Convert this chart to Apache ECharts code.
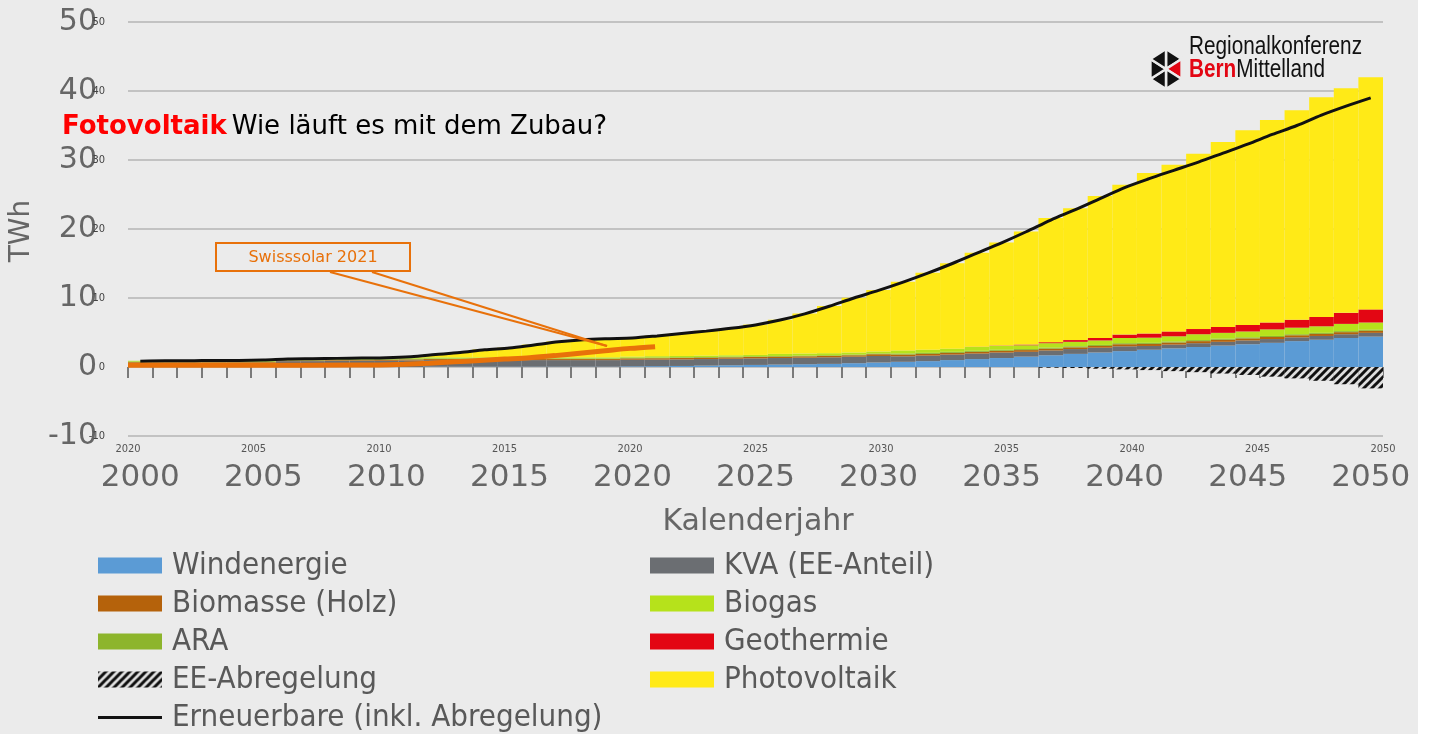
<!DOCTYPE html>
<html>
<head>
<meta charset="utf-8">
<title>Fotovoltaik – Wie läuft es mit dem Zubau?</title>
<script src="https://cdn.jsdelivr.net/npm/echarts@6/dist/echarts.min.js"></script>
<style>
  html, body { margin: 0; padding: 0; background: #ebebeb; }
  #chart { width: 1429px; height: 734px; }
</style>
</head>
<body>
<div id="chart"></div>
<script>
// Kalenderjahre (eine Säule pro Jahr)
const years = ['2000','2001','2002','2003','2004','2005','2006','2007','2008','2009',
  '2010','2011','2012','2013','2014','2015','2016','2017','2018','2019',
  '2020','2021','2022','2023','2024','2025','2026','2027','2028','2029',
  '2030','2031','2032','2033','2034','2035','2036','2037','2038','2039',
  '2040','2041','2042','2043','2044','2045','2046','2047','2048','2049','2050'];

// kleine Achsenbeschriftung (wie im Original, inkl. "2020" am Anfang)
const smallTickLabels = ['2020','2005','2010','2015','2020','2025','2030','2035','2040','2045','2050'];

// Produktion in TWh, von unten nach oben gestapelt
const wind = [0,0,0,0,0,0,0,0,0,0,0,0,0.05,0.05,0.05,0.05,0.05,0.05,0.05,0.05,
  0.1,0.12,0.15,0.2,0.25,0.3,0.35,0.4,0.45,0.55,
  0.65,0.75,0.85,1.0,1.15,1.3,1.5,1.7,1.9,2.1,
  2.3,2.5,2.7,2.9,3.1,3.3,3.5,3.75,3.95,4.2,4.4];
const kva = [0.6,0.6,0.6,0.6,0.6,0.6,0.85,0.85,0.9,0.9,0.9,
  0.95,0.95,0.95,0.95,0.95,0.95,0.95,0.95,0.95,0.95,
  0.95,0.95,0.95,0.95,0.95,0.95,0.95,0.95,0.95,0.95,
  0.8,0.8,0.8,0.8,0.8,0.7,0.7,0.7,0.7,0.7,
  0.55,0.55,0.55,0.55,0.55,0.55,0.55,0.55,0.55,0.55];
const biomasse = [0.1,0.1,0.1,0.1,0.1,0.1,0.1,0.1,0.1,0.1,
  0.15,0.15,0.15,0.15,0.15,0.15,0.15,0.15,0.15,0.15,
  0.2,0.2,0.2,0.2,0.2,0.2,0.2,0.2,0.2,0.2,
  0.25,0.25,0.25,0.25,0.25,0.25,0.25,0.25,0.25,0.25,
  0.3,0.3,0.3,0.3,0.3,0.3,0.3,0.3,0.3,0.3,0.3];
const ara = [0.1,0.1,0.1,0.1,0.1,0.1,0.1,0.1,0.1,0.1,0.1,0.1,0.1,0.1,0.1,0.1,
  0.1,0.1,0.1,0.1,0.1,0.1,0.1,0.1,0.1,0.1,0.1,0.1,0.1,0.1,0.1,
  0.15,0.15,0.15,0.15,0.15,0.15,0.15,0.15,0.15,0.15,
  0.15,0.15,0.15,0.15,0.15,0.15,0.15,0.15,0.15,0.15];
const biogas = [0.1,0.1,0.1,0.1,0.1,0.1,0.1,0.1,0.1,0.1,0.1,
  0.15,0.15,0.15,0.15,0.15,0.15,0.15,0.15,0.15,0.15,
  0.2,0.2,0.2,0.2,0.2,0.3,0.3,0.3,0.3,0.3,
  0.45,0.45,0.45,0.55,0.55,0.55,0.65,0.65,0.65,
  0.75,0.75,0.75,0.85,0.85,0.85,0.95,0.95,0.95,1.05,1.05];
const geothermie = [0,0,0,0,0,0,0,0,0,0,0,0,0,0,0,0,0,0,0,0,
  0,0,0,0,0,0,0,0,0,0,0,0,0,0,
  0.03,0.05,0.1,0.15,0.25,0.35,0.5,0.6,0.7,0.75,0.85,0.95,1.0,1.15,1.35,1.6,1.9];
const photovoltaik = [0,0,0,0.03,0.03,0.05,0.03,0.05,0.05,0.1,0.1,
  0.15,0.45,0.75,1.15,1.4,1.85,2.3,2.6,2.75,
  2.75,2.98,3.3,3.6,3.95,4.4,4.95,5.8,6.85,7.95,
  8.9,9.95,11.15,12.4,13.62,14.95,16.4,18.0,19.1,20.6,
  21.7,23.25,24.15,25.4,26.8,28.2,29.35,30.35,31.85,32.55,33.65];
const abregelung = [0,0,0,0,0,0,0,0,0,0,0,0,0,0,0,0,0,0,0,0,
  0,0,0,0,0,0,0,0,0,0,0,0,0,0,0,0,0,
  -0.1,-0.15,-0.25,-0.35,-0.45,-0.6,-0.75,-0.95,-1.15,-1.4,-1.65,-2.0,-2.5,-3.1];
// Erneuerbare inkl. Abregelung (schwarze Linie)
const erneuerbare = [0.85,0.9,0.9,0.95,0.95,1.0,1.15,1.2,1.25,1.3,1.35,
  1.5,1.8,2.1,2.5,2.75,3.2,3.65,3.95,4.1,4.2,
  4.5,4.85,5.2,5.6,6.1,6.8,7.7,8.8,10.0,11.1,
  12.3,13.6,15.0,16.5,18.0,19.6,21.3,22.8,24.4,26.0,
  27.3,28.5,29.7,31.0,32.3,33.7,35.0,36.5,37.8,39.0];

// Swisssolar 2021 (orange Linie)
const solarYears = [2000,2005,2009,2010,2011,2012,2013,2014,2015,2016,2017,2018,2019,2020,2021];
const solarValues = [0.25,0.25,0.28,0.3,0.4,0.55,0.75,0.95,1.15,1.35,1.65,2.0,2.35,2.7,2.95];

// Schraffur für die Abregelung
const hatch = document.createElement('canvas');
hatch.width = 8;
hatch.height = 8;
const hctx = hatch.getContext('2d');
hctx.fillStyle = '#dedede';
hctx.fillRect(0, 0, 8, 8);
hctx.strokeStyle = '#111';
hctx.lineWidth = 3;
hctx.beginPath();
hctx.moveTo(-2, 10); hctx.lineTo(10, -2);
hctx.moveTo(-2, 2); hctx.lineTo(2, -2);
hctx.moveTo(6, 10); hctx.lineTo(10, 6);
hctx.stroke();

const axisFont = 'DejaVu Sans';
const legendFont = '"DejaVu Sans Condensed", "DejaVu Sans"';
const narrowFont = '"DejaVu Sans Condensed", sans-serif';

// Linien-Symbol in der Legende (dünner Balken in der Mitte)
const lineIcon = 'path://M0,0L64,0L64,0.01L0,0.01Z M0,6.5L64,6.5L64,9.5L0,9.5Z M0,16L64,16L64,16.01L0,16.01Z';

const barSeries = (name, data, color) => ({
  name: name,
  type: 'bar',
  stack: 'total',
  data: data,
  barCategoryGap: '0%',
  itemStyle: { color: color },
  emphasis: { disabled: true },
  z: 2
});

// Logo: Sechseck aus Dreiecken
const lc = [1166, 69];
const hexPts = [90, 30, -30, -90, -150, 150].map(a => [
  lc[0] + 18 * Math.cos(a * Math.PI / 180),
  lc[1] - 20 * Math.sin(a * Math.PI / 180)
]);
const sectorColors = ['#111', '#e30613', '#111', '#111', '#111', '#111'];
const logoShapes = hexPts.map((p, i) => ({
  type: 'polygon',
  shape: { points: [lc, p, hexPts[(i + 1) % 6]] },
  style: { fill: sectorColors[i], stroke: '#ebebeb', lineWidth: 2.5 },
  silent: true
}));

const legendText = { fontFamily: legendFont, fontSize: 31, color: '#595959', lineHeight: 30, padding: [0, 0, 0, 5] };

const chart = echarts.init(document.getElementById('chart'));

const option = {
  backgroundColor: '#ebebeb',
  animation: false,
  title: {
    text: '{a|Fotovoltaik} {b|Wie läuft es mit dem Zubau?}',
    left: 62,
    top: 114,
    padding: 0,
    textStyle: {
      rich: {
        a: { color: '#ff0000', fontWeight: 'bold', fontSize: 26, fontFamily: axisFont },
        b: { color: '#000', fontWeight: 'normal', fontSize: 26, fontFamily: axisFont }
      }
    }
  },
  grid: { left: 128, right: 46, top: 22, bottom: 298 },
  legend: [
    {
      data: ['Windenergie', 'Biomasse (Holz)', 'ARA', 'EE-Abregelung',
        { name: 'Erneuerbare (inkl. Abregelung)', icon: lineIcon }],
      orient: 'vertical',
      left: 98,
      top: 550,
      height: 190,
      padding: 0,
      icon: 'rect',
      itemWidth: 64,
      itemHeight: 16,
      itemGap: 7,
      selectedMode: false,
      textStyle: legendText
    },
    {
      data: ['KVA (EE-Anteil)', 'Biogas', 'Geothermie', 'Photovoltaik'],
      orient: 'vertical',
      left: 650,
      top: 550,
      height: 190,
      padding: 0,
      icon: 'rect',
      itemWidth: 64,
      itemHeight: 16,
      itemGap: 7,
      selectedMode: false,
      textStyle: legendText
    }
  ],
  xAxis: [
    {
      // Säulen-Achse, Striche auf der Nulllinie
      type: 'category',
      data: years,
      boundaryGap: true,
      axisLine: { show: false, onZero: true },
      axisTick: { show: true, interval: 0, length: 11, lineStyle: { color: '#7a7a7a', width: 2 } },
      axisLabel: { show: false }
    },
    {
      // kleine Jahreszahlen am unteren Rand
      type: 'value',
      min: 2000,
      max: 2050,
      interval: 5,
      position: 'bottom',
      axisLine: { show: false, onZero: false },
      axisTick: { show: false },
      splitLine: { show: false },
      axisLabel: {
        margin: 8,
        fontSize: 11,
        color: '#555',
        fontFamily: narrowFont,
        formatter: v => smallTickLabels[Math.round((v - 2000) / 5)]
      }
    },
    {
      // grosse Jahreszahlen
      type: 'category',
      data: years,
      boundaryGap: true,
      position: 'bottom',
      axisLine: { show: false, onZero: false },
      axisTick: { show: false },
      axisLabel: { interval: 4, margin: 26, fontSize: 31, color: '#666', fontFamily: axisFont }
    }
  ],
  yAxis: [
    {
      type: 'value',
      min: -10,
      max: 50,
      interval: 10,
      axisLine: { show: false },
      axisTick: { show: false },
      splitLine: { lineStyle: { color: '#c2c2c2', width: 2 } },
      axisLabel: { margin: 31, fontSize: 30, color: '#666', fontFamily: axisFont }
    },
    {
      type: 'value',
      min: -10,
      max: 50,
      interval: 10,
      position: 'left',
      axisLine: { show: false },
      axisTick: { show: false },
      splitLine: { show: false },
      axisLabel: { margin: 23, fontSize: 11, color: '#444', fontFamily: narrowFont }
    }
  ],
  series: [
    barSeries('Windenergie', wind, '#5b9bd5'),
    barSeries('KVA (EE-Anteil)', kva, '#6b6e72'),
    barSeries('Biomasse (Holz)', biomasse, '#b5620b'),
    barSeries('ARA', ara, '#8db52c'),
    barSeries('Biogas', biogas, '#b6e21b'),
    barSeries('Geothermie', geothermie, '#e30613'),
    barSeries('Photovoltaik', photovoltaik, '#ffea17'),
    barSeries('EE-Abregelung', abregelung, { image: hatch, repeat: 'repeat' }),
    {
      name: 'Erneuerbare (inkl. Abregelung)',
      type: 'line',
      data: erneuerbare,
      smooth: 0.3,
      symbol: 'none',
      lineStyle: { color: '#111', width: 3 },
      itemStyle: { color: '#111' },
      emphasis: { disabled: true },
      z: 5
    },
    {
      name: 'Swisssolar 2021',
      type: 'line',
      xAxisIndex: 1,
      data: solarYears.map((y, i) => [y, solarValues[i]]),
      smooth: 0.3,
      symbol: 'none',
      lineStyle: { color: '#e8710a', width: 5 },
      itemStyle: { color: '#e8710a' },
      emphasis: { disabled: true },
      z: 6
    }
  ],
  graphic: [
    // weisser Rand rechts
    { type: 'rect', shape: { x: 1418, y: 0, width: 11, height: 734 }, style: { fill: '#ffffff' }, silent: true },
    {
      type: 'text', x: 22, y: 231, rotation: Math.PI / 2,
      style: { text: 'TWh', font: '28px "DejaVu Sans"', fill: '#666', align: 'center', verticalAlign: 'middle', textAlign: 'center', textVerticalAlign: 'middle' }
    },
    {
      type: 'text', x: 758, y: 522,
      style: { text: 'Kalenderjahr', font: '30px "DejaVu Sans"', fill: '#666', align: 'center', verticalAlign: 'middle', textAlign: 'center', textVerticalAlign: 'middle' }
    },
    // Annotation Swisssolar
    { type: 'rect', shape: { x: 216, y: 243, width: 194, height: 28 }, style: { fill: 'none', stroke: '#e8710a', lineWidth: 2 }, z: 10 },
    {
      type: 'text', x: 313, y: 258, z: 10,
      style: { text: 'Swisssolar 2021', font: '16px "DejaVu Sans"', fill: '#e8710a', align: 'center', verticalAlign: 'middle', textAlign: 'center', textVerticalAlign: 'middle' }
    },
    { type: 'polyline', shape: { points: [[330, 272], [607, 346]] }, style: { stroke: '#e8710a', lineWidth: 2 }, z: 10 },
    { type: 'polyline', shape: { points: [[372, 272], [607, 346]] }, style: { stroke: '#e8710a', lineWidth: 2 }, z: 10 },
    // Logo Regionalkonferenz Bern-Mittelland (schmal gezogen)
    ...logoShapes,
    {
      type: 'text', x: 1189, y: 47, scaleX: 0.83,
      style: { text: 'Regionalkonferenz', font: '25px "Liberation Sans", Arial', fill: '#111', verticalAlign: 'middle', textVerticalAlign: 'middle' }
    },
    {
      type: 'text', x: 1189, y: 70, scaleX: 0.83,
      style: {
        text: '{r|Bern}{k|Mittelland}',
        verticalAlign: 'middle',
        textVerticalAlign: 'middle',
        rich: {
          r: { fontSize: 25, fontWeight: 'bold', fontFamily: '"Liberation Sans", Arial', fill: '#e30613', color: '#e30613' },
          k: { fontSize: 25, fontFamily: '"Liberation Sans", Arial', fill: '#111', color: '#111' }
        }
      }
    }
  ]
};

chart.setOption(option);
</script>
</body>
</html>
